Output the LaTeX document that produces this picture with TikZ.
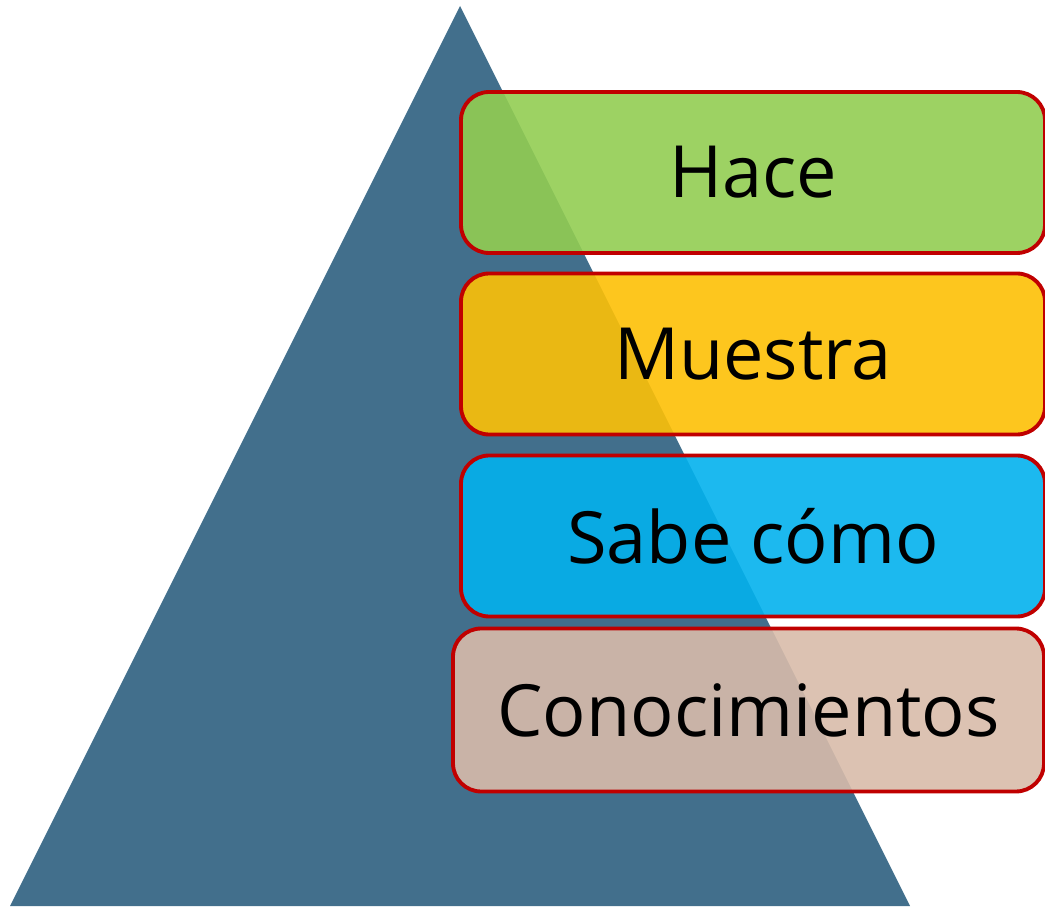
\documentclass[tikz,border=0pt]{standalone}
\usepackage{fontspec}
\setmainfont{Open Sans}
\usepackage{tikz}
\definecolor{pyrfill}{RGB}{66,111,140}
\definecolor{lvlline}{RGB}{192,0,0}
\definecolor{lvlgreen}{RGB}{146,205,82}
\definecolor{lvlyellow}{RGB}{253,192,6}
\definecolor{lvlblue}{RGB}{3,177,237}
\definecolor{lvltan}{RGB}{216,187,170}
\tikzset{
  lvl/.style ={draw=lvlline, line width=1.1pt, rounded corners=8pt,
               fill opacity=0.9, text opacity=1, inner sep=0pt,
               minimum width=5.84cm, minimum height=1.61cm,
               font=\fontsize{20.5}{25}\selectfont},
}
\begin{document}
\begin{tikzpicture}
  \useasboundingbox (0,0) rectangle (10.45,9.06);
  \fill[pyrfill] (0.10,0) -- (4.60,9.00) -- (9.10,0) -- cycle;
  \node[lvl,fill=lvlgreen]  (hace)    at (7.53,7.335) {Hace};
  \node[lvl,fill=lvlyellow] (muestra) at (7.53,5.52)  {Muestra};
  \node[lvl,fill=lvlblue]   (sabe)    at (7.53,3.70)  {Sabe cómo};
  \node[lvl,fill=lvltan,minimum width=5.91cm,minimum height=1.63cm] (conoc) at (7.485,1.96) {Conocimientos};
\end{tikzpicture}
\end{document}
